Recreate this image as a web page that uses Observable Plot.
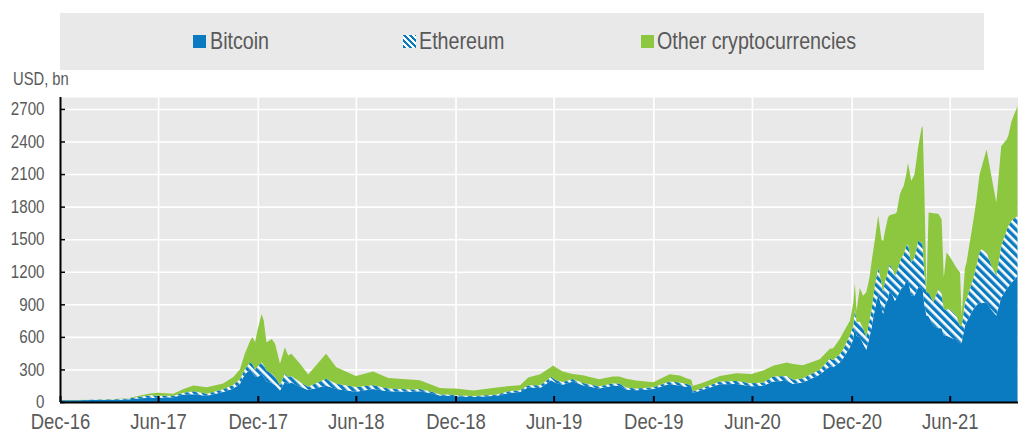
<!DOCTYPE html>
<html>
<head>
<meta charset="utf-8">
<script src="https://cdn.jsdelivr.net/npm/d3@7"></script>
<script src="https://cdn.jsdelivr.net/npm/@observablehq/plot@0.6"></script>
<style>
  html, body { margin: 0; padding: 0; background: #fff; }
  #wrap { position: relative; width: 1018px; height: 434px; overflow: hidden; font-family: "Liberation Sans", Arial, sans-serif; color: #595959; }
  #legend { position: absolute; left: 60px; top: 13px; width: 924px; height: 57px; background: #e9e9e9; }
  .sw { position: absolute; top: 22px; width: 13px; height: 13px; }
  .lab { position: absolute; top: 15.9px; font-size: 24px; line-height: 1; white-space: nowrap; transform: scaleX(0.82); transform-origin: 0 0; }
  #unit { position: absolute; left: 13px; top: 69.8px; font-size: 18px; line-height: 1; white-space: nowrap; transform: scaleX(0.82); transform-origin: 0 0; }
  #chart { position: absolute; left: 0; top: 90px; }
</style>
</head>
<body>
<div id="wrap">
  <div id="legend"></div>
  <div id="unit">USD, bn</div>
  <div id="chart"></div>
</div>
<script>
// ---- data (USD bn) ----
const dates = [
"2016-12-31","2017-01-31","2017-02-28","2017-03-31","2017-05-03","2017-05-28","2017-06-15","2017-06-30","2017-07-28","2017-08-16",
"2017-09-03","2017-09-28","2017-10-28","2017-11-16","2017-11-28","2017-12-07","2017-12-17","2017-12-21","2017-12-26","2017-12-31",
"2018-01-07","2018-01-11","2018-01-16","2018-01-26","2018-02-01","2018-02-10","2018-02-19","2018-02-25","2018-03-03","2018-03-19",
"2018-04-03","2018-05-06","2018-05-25","2018-06-30","2018-08-01","2018-08-29","2018-10-14","2018-10-26","2018-11-19","2018-12-02",
"2018-12-21","2018-12-31","2019-02-02","2019-03-17","2019-04-10","2019-04-29","2019-05-14","2019-06-05","2019-06-26","2019-06-29",
"2019-07-05","2019-07-17","2019-08-04","2019-08-23","2019-09-22","2019-10-17","2019-10-29","2019-11-11","2019-11-29","2019-12-31",
"2020-01-30","2020-02-18","2020-03-01","2020-03-10","2020-03-13","2020-03-29","2020-05-02","2020-06-01","2020-06-29","2020-07-21",
"2020-08-08","2020-09-02","2020-09-14","2020-10-02","2020-11-02","2020-11-21","2020-11-27","2020-12-09","2020-12-15","2020-12-28",
"2021-01-03","2021-01-06","2021-01-09","2021-01-15","2021-01-21","2021-01-27","2021-02-02","2021-02-06","2021-02-12","2021-02-18",
"2021-02-24","2021-02-27","2021-03-02","2021-03-08","2021-03-11","2021-03-17","2021-03-21","2021-03-24","2021-03-30","2021-04-02",
"2021-04-06","2021-04-11","2021-04-14","2021-04-20","2021-04-26","2021-05-03","2021-05-09","2021-05-11","2021-05-14","2021-05-18",
"2021-05-22","2021-05-31","2021-06-09","2021-06-15","2021-06-19","2021-06-24","2021-06-30","2021-07-03","2021-07-12","2021-07-19",
"2021-07-22","2021-07-28","2021-07-31","2021-08-12","2021-08-18","2021-08-24","2021-08-27","2021-09-06","2021-09-15","2021-09-24",
"2021-10-03","2021-10-13","2021-10-16","2021-10-22","2021-10-28","2021-11-02"
];
const bitcoin = [
16,16,19,18,22,34,40,40,43,68,
72,58,92,125,165,255,300,270,235,230,
260,230,190,175,155,105,185,165,180,140,
110,150,120,95,120,100,95,100,78,60,
58,52,45,58,86,92,135,130,200,188,
175,160,190,155,125,150,150,115,108,120,
165,150,140,135,82,108,163,165,145,150,
190,195,165,180,250,330,320,365,400,505,
580,700,610,600,540,480,600,690,860,990,
880,810,880,950,1020,980,930,960,1020,1050,
1060,1120,1130,980,980,1060,1050,1040,900,796,
790,700,680,680,612,610,600,590,575,540,
545,700,735,850,888,920,910,918,850,796,
960,1040,1060,1100,1130,1163
];
const ethereum = [
1,1,1,4,7,14,22,17,15,17,
28,19,25,35,45,45,67,80,62,100,
107,110,100,85,75,50,75,65,60,44,
30,64,48,43,35,25,20,20,14,10,
10,10,10,12,16,16,20,25,32,30,
25,25,23,21,20,20,20,18,16,15,
23,29,25,22,14,18,25,29,28,30,
44,45,39,39,46,68,68,75,81,115,
120,155,130,140,140,120,160,167,220,250,
220,200,220,250,250,240,233,240,270,282,
300,319,320,306,350,425,420,410,300,214,
220,218,361,320,245,240,257,250,221,160,
155,218,215,283,362,460,498,459,405,367,
479,540,562,570,565,551
];
const other = [
1,2,1,3,4,12,16,28,18,35,
52,58,53,70,90,145,198,250,253,343,
443,410,260,320,305,197,245,198,204,168,
114,230,153,101,125,97,90,80,62,58,
56,62,50,63,46,47,70,101,93,119,
115,95,45,70,65,65,65,82,74,47,
68,66,54,48,54,47,52,71,86,110,
99,124,146,120,99,92,108,140,154,132,
212,240,100,310,300,410,388,443,420,480,
400,470,461,499,450,509,572,545,623,618,
630,661,754,750,767,872,1055,1090,800,30,
735,822,694,684,291,527,483,476,444,494,
96,312,336,520,600,717,742,949,826,674,
918,838,828,917,968,1010
];
const seriesNames = ["Bitcoin", "Ethereum", "Other cryptocurrencies"];
const xTickDates = ["2016-12-31","2017-06-30","2017-12-31","2018-06-30","2018-12-31","2019-06-30","2019-12-31","2020-06-30","2020-12-31","2021-06-30"];
const yTicks = [0,300,600,900,1200,1500,1800,2100,2400,2700];
const xDomain = ["2016-12-31","2021-11-03"];
const yMax = 2810;

// ---- colours ----
const BLUE = "#0a7bc1", GREEN = "#8dc63f", BG = "#e9e9e9", TXT = "#595959";

// ---- legend ----
const legend = document.getElementById("legend");
const legendPos = [[132.5, 150], [342.7, 359], [581, 597]];
const swatchCss = [
  `background:${BLUE}`,
  `background:repeating-linear-gradient(45deg, ${BLUE} 0 2.4px, #fff 2.4px 4.3px)`,
  `background:${GREEN}`
];
seriesNames.forEach((s, i) => {
  const sw = document.createElement("div");
  sw.className = "sw"; sw.style.cssText = swatchCss[i]; sw.style.left = legendPos[i][0] + "px";
  const lb = document.createElement("div");
  lb.className = "lab"; lb.textContent = s; lb.style.left = legendPos[i][1] + "px";
  legend.appendChild(sw); legend.appendChild(lb);
});

// ---- chart ----
const long = dates.flatMap((d, i) => [
  {date: new Date(d), series: seriesNames[0], value: bitcoin[i]},
  {date: new Date(d), series: seriesNames[1], value: ethereum[i]},
  {date: new Date(d), series: seriesNames[2], value: other[i]}
]);
const xTicks = xTickDates.map(d => new Date(d));
const W = 1018, H = 344, mT = 7, mB = 32, mL = 60, mR = 0;
const plotH = H - mT - mB, plotW = W - mL - mR;

const svg = Plot.plot({
  width: W, height: H,
  marginTop: mT, marginBottom: mB, marginLeft: mL, marginRight: mR,
  style: {fontFamily: '"Liberation Sans", Arial, sans-serif', color: TXT, background: "transparent", overflow: "visible"},
  x: {type: "utc", domain: xDomain.map(d => new Date(d))},
  y: {domain: [0, yMax]},
  color: {domain: seriesNames, range: [BLUE, "url(#ethHatch)", GREEN]},
  marks: [
    Plot.frame({fill: BG, stroke: "none"}),
    Plot.ruleY(yTicks.filter(v => v > 0), {stroke: "#fff", strokeWidth: 1.6}),
    Plot.ruleX(xTicks.slice(1), {stroke: "#fff", strokeWidth: 1.6}),
    Plot.areaY(long, {x: "date", y: "value", fill: "series", order: seriesNames, curve: "linear"}),
    Plot.ruleY([0], {stroke: "#000", strokeWidth: 2}),
    Plot.ruleX([xTicks[0]], {stroke: "#000", strokeWidth: 2}),
    Plot.ruleX(xTicks, {stroke: "#000", strokeWidth: 2, insetTop: plotH - 6}),
    Plot.ruleY(yTicks, {stroke: "#000", strokeWidth: 1.5, insetRight: plotW - 5}),
    Plot.axisX(xTicks, {tickFormat: d3.utcFormat("%b-%y"), tickSize: 0, tickPadding: 11, fontSize: 22, label: null, fill: TXT}),
    Plot.axisY(yTicks, {tickFormat: d => String(d), tickSize: 0, tickPadding: 16, fontSize: 18, label: null, fill: TXT})
  ]
});

const ns = "http://www.w3.org/2000/svg";
const defs = document.createElementNS(ns, "defs");
defs.innerHTML = `<pattern id="ethHatch" patternUnits="userSpaceOnUse" width="6" height="6" patternTransform="rotate(45)">
  <rect width="6" height="6" fill="${BLUE}"/><rect width="6" height="2.6" fill="#fff"/></pattern>`;
svg.insertBefore(defs, svg.firstChild);
document.getElementById("chart").appendChild(svg);

// narrow the axis labels (Arial Narrow look)
svg.querySelectorAll('g[aria-label$="tick label"] text').forEach(t => {
  const len = t.getComputedTextLength();
  t.setAttribute("textLength", (len * 0.84).toFixed(2));
  t.setAttribute("lengthAdjust", "spacingAndGlyphs");
});
</script>
</body>
</html>
